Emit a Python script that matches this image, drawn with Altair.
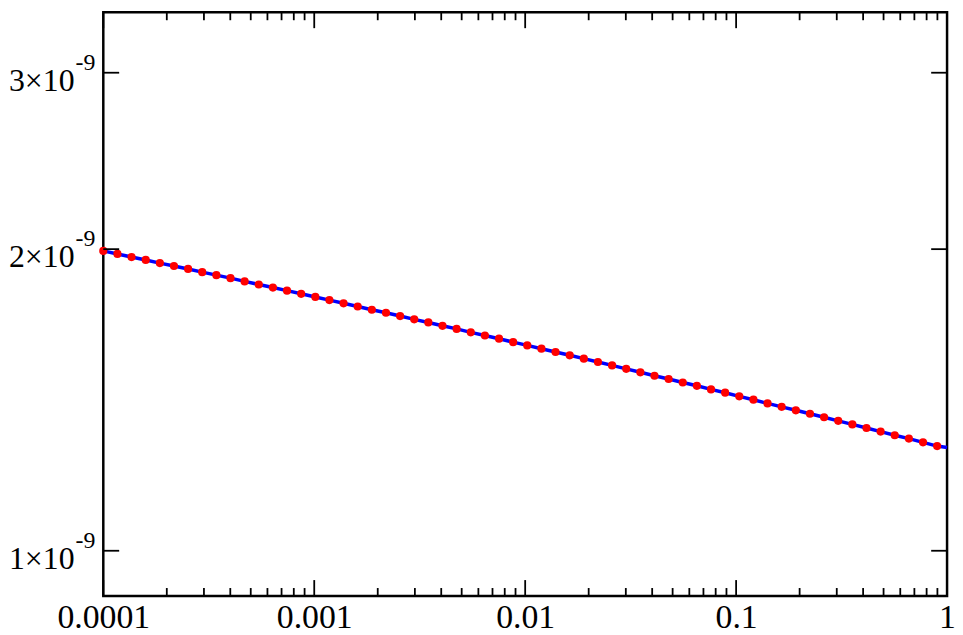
import altair as alt
import pandas as pd

# data points (red dots)
xs = [1.0e-4, 1.167e-4, 1.361e-4, 1.589e-4, 1.854e-4, 2.163e-4, 2.523e-4, 2.944e-4,
      3.436e-4, 4.009e-4, 4.677e-4, 5.458e-4, 6.368e-4, 7.430e-4, 8.670e-4, 1.012e-3,
      1.180e-3, 1.377e-3, 1.607e-3, 1.875e-3, 2.188e-3, 2.553e-3, 2.979e-3, 3.475e-3,
      4.055e-3, 4.732e-3, 5.521e-3, 6.442e-3, 7.516e-3, 8.770e-3, 1.023e-2, 1.194e-2,
      1.393e-2, 1.626e-2, 1.897e-2, 2.213e-2, 2.582e-2, 3.013e-2, 3.516e-2, 4.102e-2,
      4.786e-2, 5.585e-2, 6.516e-2, 7.603e-2, 8.872e-2, 0.1035, 0.1208, 0.1409,
      0.1644, 0.1919, 0.2239, 0.2612, 0.3048, 0.3556, 0.4150, 0.4842, 0.5649, 0.6592,
      0.7691, 0.8974]
ys = [1.992e-09, 1.978e-09, 1.964e-09, 1.951e-09, 1.937e-09, 1.924e-09, 1.911e-09, 1.897e-09,
      1.884e-09, 1.871e-09, 1.857e-09, 1.844e-09, 1.831e-09, 1.818e-09, 1.805e-09, 1.792e-09,
      1.779e-09, 1.766e-09, 1.753e-09, 1.740e-09, 1.728e-09, 1.715e-09, 1.702e-09, 1.690e-09,
      1.677e-09, 1.665e-09, 1.652e-09, 1.640e-09, 1.628e-09, 1.615e-09, 1.603e-09, 1.591e-09,
      1.579e-09, 1.567e-09, 1.555e-09, 1.543e-09, 1.531e-09, 1.519e-09, 1.507e-09, 1.495e-09,
      1.484e-09, 1.472e-09, 1.461e-09, 1.449e-09, 1.438e-09, 1.426e-09, 1.415e-09, 1.403e-09,
      1.392e-09, 1.381e-09, 1.370e-09, 1.359e-09, 1.348e-09, 1.337e-09, 1.326e-09, 1.315e-09,
      1.304e-09, 1.294e-09, 1.283e-09, 1.272e-09]

# blue curve: through the points and on to the right edge
line_x = xs + [1.0]
line_y = ys + [1.268e-9]

x_major = [1e-4, 1e-3, 1e-2, 1e-1, 1.0]
x_minor = [2e-4, 3e-4, 4e-4, 5e-4, 6e-4, 7e-4, 8e-4, 9e-4,
           2e-3, 3e-3, 4e-3, 5e-3, 6e-3, 7e-3, 8e-3, 9e-3,
           2e-2, 3e-2, 4e-2, 5e-2, 6e-2, 7e-2, 8e-2, 9e-2,
           0.2, 0.3, 0.4, 0.5, 0.6, 0.7, 0.8, 0.9]
y_major = [1e-9, 2e-9, 3e-9]
y_main = ["1×10", "2×10", "3×10"]
y_sup = ["-9", "-9", "-9"]

W, H = 850, 588
FONT = "'Liberation Serif', 'Times New Roman', 'DejaVu Serif', serif"

xsc = alt.Scale(type="log", domain=[1e-4, 1.0], nice=False)
ysc = alt.Scale(type="log", domain=[0.9013e-9, 3.447e-9], nice=False)

pts = pd.DataFrame({"x": xs, "y": ys})
ln = pd.DataFrame({"x": line_x, "y": line_y})
xmaj = pd.DataFrame({"x": x_major})
xmin = pd.DataFrame({"x": x_minor})
ylab = pd.DataFrame({"y": y_major, "main": y_main, "sup": y_sup})

xaxis = alt.Axis(values=x_major, format=".4~f", labelFlush=False, labelOverlap=False,
                 ticks=False, domain=False, grid=False, title=None,
                 labelFont=FONT, labelFontSize=34, labelColor="black", labelPadding=5)

line = alt.Chart(ln).mark_line(color="#0000ff", strokeWidth=3.5).encode(
    x=alt.X("x:Q", scale=xsc, axis=xaxis),
    y=alt.Y("y:Q", scale=ysc, axis=None),
)
dots = alt.Chart(pts).mark_circle(color="#ff0000", opacity=1, size=68).encode(
    x=alt.X("x:Q", scale=xsc), y=alt.Y("y:Q", scale=ysc, axis=None))

TW = 1.8
bmaj = alt.Chart(xmaj).mark_rule(color="black", strokeWidth=TW).encode(
    x=alt.X("x:Q", scale=xsc), y=alt.value(H), y2=alt.value(H - 16))
bmin = alt.Chart(xmin).mark_rule(color="black", strokeWidth=TW).encode(
    x=alt.X("x:Q", scale=xsc), y=alt.value(H), y2=alt.value(H - 8))
tmaj = alt.Chart(xmaj).mark_rule(color="black", strokeWidth=TW).encode(
    x=alt.X("x:Q", scale=xsc), y=alt.value(0), y2=alt.value(16))
tmin = alt.Chart(xmin).mark_rule(color="black", strokeWidth=TW).encode(
    x=alt.X("x:Q", scale=xsc), y=alt.value(0), y2=alt.value(8))
lt = alt.Chart(ylab).mark_rule(color="black", strokeWidth=TW).encode(
    y=alt.Y("y:Q", scale=ysc, axis=None), x=alt.value(0), x2=alt.value(16))
rt = alt.Chart(ylab).mark_rule(color="black", strokeWidth=TW).encode(
    y=alt.Y("y:Q", scale=ysc, axis=None), x=alt.value(W), x2=alt.value(W - 16))
lab_main = alt.Chart(ylab).mark_text(font=FONT, fontSize=32, align="right",
                                     baseline="alphabetic", dy=18, color="black").encode(
    y=alt.Y("y:Q", scale=ysc, axis=None), x=alt.value(-29), text="main:N")
lab_sup = alt.Chart(ylab).mark_text(font=FONT, fontSize=24, align="left",
                                    baseline="alphabetic", dy=-3, color="black").encode(
    y=alt.Y("y:Q", scale=ysc, axis=None), x=alt.value(-28), text="sup:N")

chart = alt.layer(line, dots, bmaj, bmin, tmaj, tmin, lt, rt, lab_main, lab_sup).properties(
    width=W, height=H,
    autosize=alt.AutoSizeParams(type="none"),
    padding={"left": 96, "top": 2, "right": 8, "bottom": 37},
).configure_view(stroke="black", strokeWidth=2.5)

chart.save("out.html", embed_options={"renderer": "svg", "actions": False})
